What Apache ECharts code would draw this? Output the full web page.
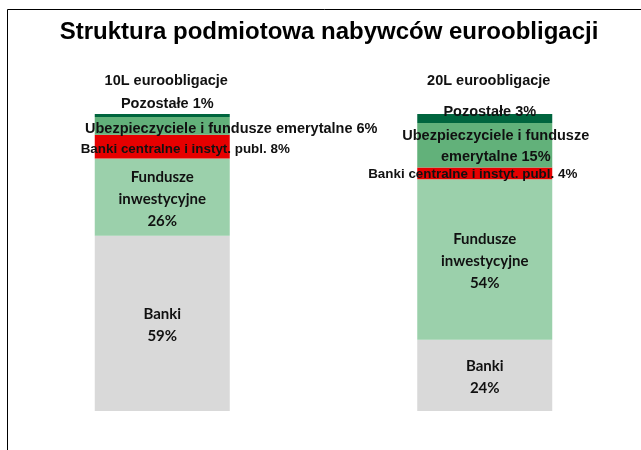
<!DOCTYPE html>
<html>
<head>
<meta charset="utf-8">
<script src="https://cdn.jsdelivr.net/npm/echarts@6/dist/echarts.min.js"></script>
<style>
html, body { margin: 0; padding: 0; background: #fff; }
#chart { width: 641px; height: 450px; }
</style>
</head>
<body>
<div id="chart"></div>
<script>
// dane
var categories = ['10L euroobligacje', '20L euroobligacje'];
var seriesNames = ['Banki', 'Fundusze inwestycyjne', 'Banki centralne i instyt. publ.', 'Ubezpieczyciele i fundusze emerytalne', 'Pozostałe'];
var banki = [59, 24];
var fundusze = [26, 54];
var bankiCentralne = [8, 4];
var ubezpieczyciele = [6, 15];
var pozostale = [1, 3];

var colors = ['#d9d9d9', '#9bd0ab', '#e60000', '#62b17a', '#00653e'];
var sans = '"Liberation Sans", Arial, sans-serif';

var dom = document.getElementById('chart');
var myChart = echarts.init(dom);

// etykiety poza slupkiem - przesuniecia dla kazdej kategorii
var outerOffsets = {
    2: [[23, 3], [-12, 1]],
    3: [[69, 3], [11, 1]],
    4: [[5, -11], [5, -6]]
};

function outerLabel(name, idx) {
    return function (p) {
        var txt = name + ' ' + p.value + '%';
        if (idx === 3 && p.dataIndex === 1) {
            txt = 'Ubezpieczyciele i fundusze\nemerytalne ' + p.value + '%';
        }
        return txt;
    };
}

function makeData(values, idx) {
    return values.map(function (v, i) {
        var item = { value: v };
        if (outerOffsets[idx]) {
            item.label = { offset: outerOffsets[idx][i] };
        }
        return item;
    });
}

var allValues = [banki, fundusze, bankiCentralne, ubezpieczyciele, pozostale];

var series = allValues.map(function (vals, idx) {
    var s = {
        name: seriesNames[idx],
        type: 'bar',
        stack: 'total',
        barWidth: 135,
        itemStyle: { color: colors[idx] },
        data: makeData(vals, idx)
    };
    if (idx < 2) {
        s.label = {
            show: true,
            position: 'inside',
            fontFamily: 'Lato, "Open Sans", sans-serif',
            fontWeight: 'bold',
            fontSize: 15,
            lineHeight: 22,
            color: '#111',
            offset: [0, 2],
            formatter: function (p) {
                if (idx === 1) return 'Fundusze\ninwestycyjne\n' + p.value + '%';
                return 'Banki\n' + p.value + '%';
            }
        };
    } else {
        s.label = {
            show: true,
            position: 'inside',
            fontFamily: sans,
            fontWeight: 'bold',
            fontSize: idx === 2 ? 13.4 : 14.5,
            lineHeight: 21,
            color: '#111',
            formatter: outerLabel(seriesNames[idx], idx)
        };
    }
    return s;
});

option = {
    animation: false,
    title: {
        text: 'Struktura podmiotowa nabywców euroobligacji',
        left: 324,
        textAlign: 'center',
        top: 15,
        textStyle: {
            fontFamily: sans,
            fontWeight: 'bold',
            fontSize: 24,
            color: '#000'
        }
    },
    graphic: [{
        type: 'rect',
        shape: { x: 7.5, y: 9.5, width: 700, height: 500 },
        style: { fill: 'none', stroke: '#000', lineWidth: 1 },
        silent: true
    }],
    grid: {
        left: 1,
        width: 645,
        top: 114,
        bottom: 39,
        outerBoundsMode: 'none'
    },
    xAxis: {
        type: 'category',
        position: 'top',
        data: categories,
        axisLine: { show: false },
        axisTick: { show: false },
        axisLabel: {
            margin: 26,
            padding: [0, 0, 0, 8],
            fontFamily: sans,
            fontWeight: 'bold',
            fontSize: 14.5,
            color: '#111'
        }
    },
    yAxis: {
        type: 'value',
        min: 0,
        max: 100,
        show: false,
        splitLine: { show: false }
    },
    series: series
};

if (option && typeof option === "object") {
    myChart.setOption(option, true);
}
</script>
</body>
</html>
